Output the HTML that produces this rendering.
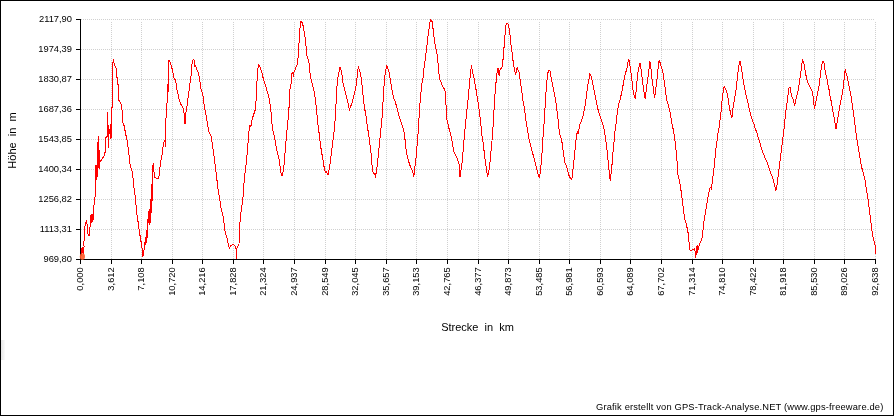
<!DOCTYPE html>
<html><head><meta charset="utf-8"><title>Höhenprofil</title>
<style>
html,body{margin:0;padding:0;background:#fff;}
body{width:894px;height:416px;overflow:hidden;}
svg{display:block;}
text{font-family:"Liberation Sans",Arial,sans-serif;fill:#000;}
.t{font-size:9.33px;}
.a{font-size:11px;white-space:pre;}
.f{font-size:9.33px;letter-spacing:0.17px;}
</style></head><body>
<svg width="894" height="416" viewBox="0 0 894 416">
<rect x="0" y="0" width="894" height="416" fill="#fff"/>
<defs><linearGradient id="lg" x1="0" x2="1" y1="0" y2="0"><stop offset="0" stop-color="#e6e6e6"/><stop offset="1" stop-color="#fbfbfb"/></linearGradient></defs><rect x="1" y="340" width="4" height="20" fill="url(#lg)"/>
<path d="M81 19.5H875M81 49.5H875M81 79.5H875M81 109.5H875M81 139.5H875M81 169.5H875M81 199.5H875M81 229.5H875M111.5 22V259M141.5 22V259M172.5 22V259M202.5 22V259M233.5 22V259M263.5 22V259M294.5 22V259M325.5 22V259M355.5 22V259M386.5 22V259M416.5 22V259M447.5 22V259M478.5 22V259M508.5 22V259M539.5 22V259M569.5 22V259M600.5 22V259M630.5 22V259M661.5 22V259M692.5 22V259M722.5 22V259M753.5 22V259M783.5 22V259M814.5 22V259M844.5 22V259M875.5 22V259" stroke="#d0d0d0" stroke-width="1" stroke-dasharray="1 1" fill="none" shape-rendering="crispEdges"/>
<path d="M80.5 19V260M80 259.5H876M76 19.5H80M76 49.5H80M76 79.5H80M76 109.5H80M76 139.5H80M76 169.5H80M76 199.5H80M76 229.5H80M76 259.5H80M80.5 260V264M111.5 260V264M141.5 260V264M172.5 260V264M202.5 260V264M233.5 260V264M263.5 260V264M294.5 260V264M325.5 260V264M355.5 260V264M386.5 260V264M416.5 260V264M447.5 260V264M478.5 260V264M508.5 260V264M539.5 260V264M569.5 260V264M600.5 260V264M630.5 260V264M661.5 260V264M692.5 260V264M722.5 260V264M753.5 260V264M783.5 260V264M814.5 260V264M844.5 260V264M875.5 260V264" stroke="#000" stroke-width="1" fill="none" shape-rendering="crispEdges"/>
<polyline points="81.5,255.5 81.5,249.5 82.5,247.0 82.5,252.5 83.5,247.5 83.5,253.5 84.1,246.5 83.7,242.8 84.1,240.8 84.6,234.7 84.8,227.6 85.1,225.6 85.6,224.6 86.1,221.6 86.6,221.1 87.1,224.6 87.4,229.7 87.8,233.7 88.3,235.2 89.1,235.2 89.6,232.7 89.8,227.6 90.4,226.1 90.7,215.5 91.1,223.0 91.7,214.5 92.1,222.0 92.6,214.5 93.0,220.0 93.7,214.5 93.9,206.5 94.3,201.5 94.9,200.5 95.2,192.5 95.8,179.5 96.0,165.0 96.7,165.0 96.9,179.5 97.5,164.5 97.9,150.5 98.1,136.8 98.9,136.8 98.3,166.5 99.1,168.5 99.1,150.5 99.7,162.5 101.0,160.5 102.3,158.5 103.9,156.5 104.7,154.5 105.0,152.0 105.0,140.5 105.7,152.5 106.0,137.5 107.0,136.5 107.7,136.5 107.9,112.5 108.2,147.5 108.5,130.5 109.5,132.5 110.0,129.5 110.5,138.5 111.0,124.5 111.5,137.5 111.8,115.5 112.1,104.5 112.5,100.5 112.5,80.5 112.8,62.5 113.5,60.5 114.1,63.0 114.7,65.5 115.5,67.3 116.3,68.5 116.5,76.9 117.5,78.1 117.8,84.2 118.6,85.5 119.0,100.5 119.8,101.8 120.8,103.0 121.3,105.5 121.8,108.0 122.3,111.8 123.0,123.0 123.8,124.9 124.5,126.8 125.0,130.5 125.5,133.0 126.0,135.5 126.6,138.0 127.3,141.8 127.9,145.5 128.4,152.5 129.1,155.8 129.8,159.8 130.2,167.0 131.1,168.4 131.7,169.7 132.4,173.0 133.1,178.3 133.7,180.9 134.1,190.2 134.8,191.5 135.3,199.4 135.9,200.8 136.1,208.0 136.9,213.9 137.6,218.4 138.4,224.3 139.1,229.6 139.9,234.8 140.6,239.2 141.4,243.7 142.1,248.2 142.6,252.7 142.9,256.8 143.6,252.7 144.0,249.7 144.6,246.7 145.1,240.7 145.5,245.2 146.1,236.3 146.7,234.8 147.0,230.3 147.6,224.3 148.1,219.9 146.7,243.5 147.1,228.5 147.5,236.5 147.8,222.5 148.5,210.9 149.1,224.5 149.5,209.5 150.1,222.5 150.3,202.0 150.8,211.5 151.1,194.5 151.7,212.5 151.8,184.5 152.2,200.5 152.5,171.7 152.9,165.1 153.6,163.7 154.0,171.7 154.6,177.0 155.5,177.6 156.9,178.3 158.2,178.3 159.1,175.6 159.7,169.0 160.2,165.1 160.8,161.1 161.5,157.1 162.2,153.8 162.6,150.5 163.4,143.8 164.6,140.2 165.2,139.6 165.8,146.8 166.0,117.9 167.0,102.9 167.0,85.5 167.8,84.5 167.8,96.5 168.5,83.5 168.6,60.5 169.5,60.5 170.5,63.0 171.1,65.5 171.8,67.4 172.4,70.5 173.0,73.0 173.6,76.8 174.3,78.5 175.3,79.9 175.9,81.8 176.5,86.8 177.1,90.5 177.8,93.0 178.4,96.8 179.0,99.3 179.9,101.8 180.5,103.6 181.5,105.5 182.4,106.8 183.0,107.5 184.3,114.7 185.0,124.3 185.5,117.1 186.2,109.9 186.8,107.5 187.4,103.0 188.0,98.0 188.6,93.0 189.3,89.3 189.9,84.3 190.5,79.3 191.1,75.5 191.8,64.3 192.4,63.0 193.0,59.9 194.0,59.9 194.3,67.4 194.9,64.3 195.5,66.1 196.1,67.4 196.8,69.3 197.4,70.5 198.0,71.8 198.6,73.0 199.3,78.0 199.9,81.5 201.1,89.4 202.3,93.0 203.5,97.8 204.0,103.8 204.7,108.7 205.4,112.3 206.4,117.1 207.6,124.3 208.8,131.6 210.2,134.0 211.2,136.4 211.9,141.2 212.6,146.0 213.6,153.2 214.6,160.4 215.5,167.6 216.7,177.2 217.4,184.4 218.4,191.7 219.1,195.5 219.9,200.5 220.6,205.0 221.4,210.2 222.1,212.4 222.9,215.4 223.6,219.9 224.3,224.3 225.1,231.8 225.8,234.8 226.6,237.0 227.3,239.2 228.1,243.7 228.8,246.7 229.6,248.2 230.3,246.0 231.8,245.2 233.3,244.5 234.5,245.2 235.5,246.7 236.3,249.7 236.7,259.4 237.0,248.2 237.8,246.7 239.0,244.5 239.2,233.3 239.7,225.8 240.3,218.4 241.0,212.4 241.8,206.5 242.7,201.5 243.9,184.4 244.8,174.8 246.0,165.2 246.8,158.0 247.5,148.4 248.2,141.2 249.2,129.2 249.9,125.5 250.9,126.8 251.6,121.9 252.8,117.1 254.0,113.5 255.2,109.9 255.9,102.7 256.4,94.2 256.9,82.2 257.6,72.6 258.3,65.4 259.0,64.7 260.0,66.6 261.2,70.2 262.4,75.0 263.6,79.8 264.8,83.4 266.0,87.0 267.2,91.8 268.4,95.4 269.6,100.5 270.8,109.5 271.5,119.5 272.3,126.8 273.2,131.6 274.4,136.4 275.6,143.6 276.8,149.6 277.5,153.2 278.5,156.0 279.7,162.8 280.4,170.0 281.4,174.8 282.1,176.0 282.8,173.6 283.8,167.6 284.5,160.4 285.2,150.8 286.2,138.8 286.9,131.6 287.6,124.3 288.6,114.5 289.3,102.5 290.0,89.4 291.0,84.6 291.7,73.8 292.4,72.6 293.4,75.0 294.1,71.4 294.8,70.2 295.8,67.8 296.5,65.4 297.7,64.2 298.1,56.5 298.9,44.5 299.3,40.5 299.9,29.5 300.3,25.5 300.8,21.5 301.5,22.0 302.5,22.9 303.3,26.9 304.2,31.7 304.9,36.5 305.7,38.5 306.1,48.5 306.4,52.2 307.1,57.0 307.8,58.2 308.8,60.6 309.3,65.4 310.0,72.6 310.7,77.4 311.7,82.2 312.6,84.6 313.6,89.4 314.6,94.2 315.3,99.0 315.9,103.5 316.5,109.9 317.4,119.5 318.2,126.8 318.9,131.6 319.8,138.8 320.6,146.0 321.8,153.2 323.0,160.4 324.2,167.6 325.4,172.4 326.6,171.2 327.3,173.6 328.0,174.8 329.0,170.0 330.2,162.8 331.4,153.2 332.6,143.6 333.8,134.0 334.8,124.3 335.5,112.5 336.2,100.5 336.9,87.0 337.9,77.4 339.1,71.4 340.0,67.3 341.0,70.2 342.0,75.0 342.9,82.2 344.1,87.0 345.3,91.8 346.5,96.6 347.7,101.4 348.9,107.5 349.6,109.5 350.6,106.3 351.8,103.8 353.0,99.0 354.2,94.2 355.4,89.4 356.4,84.6 357.1,77.4 357.8,70.2 358.5,67.3 359.5,70.2 360.5,73.8 361.4,79.8 362.2,87.0 362.9,94.2 363.6,101.4 364.3,106.5 365.0,110.5 366.2,117.1 367.4,126.8 368.6,134.0 369.8,143.6 371.0,153.2 371.8,162.8 372.5,170.0 373.5,173.6 374.7,173.6 375.4,176.0 376.3,172.4 377.5,162.8 378.7,150.8 379.9,138.8 381.1,126.8 382.3,114.7 382.9,104.5 383.3,94.2 384.3,82.2 385.2,72.6 386.2,67.8 386.9,65.9 387.9,69.0 389.1,72.6 390.3,79.8 391.5,87.0 392.7,94.2 393.9,98.5 395.1,101.5 396.3,105.5 397.5,109.5 398.7,114.7 399.9,118.3 401.1,121.9 402.3,125.5 403.5,129.2 404.7,136.4 405.9,148.4 407.1,155.6 408.3,160.4 409.5,164.0 410.7,167.6 411.9,170.0 413.1,173.6 413.8,177.2 414.8,167.6 416.0,158.0 417.0,146.0 417.9,136.4 418.6,124.3 419.4,112.3 420.0,103.0 420.8,94.2 421.8,84.6 422.7,79.8 423.5,75.0 424.2,65.4 425.1,60.6 426.1,52.2 427.1,43.8 428.0,36.5 429.0,29.3 429.9,22.1 430.7,19.7 431.6,20.9 432.3,22.1 433.1,29.3 434.0,36.5 435.0,43.8 436.0,48.6 436.9,53.4 437.6,58.2 438.4,67.8 439.3,77.4 440.0,79.8 441.0,82.2 442.0,84.6 442.9,87.0 443.9,88.2 444.8,89.4 445.3,94.2 445.8,103.8 446.3,107.5 446.8,119.5 448.0,124.3 449.2,129.2 450.4,134.0 451.6,138.8 452.5,143.6 453.5,150.8 454.5,153.2 455.9,155.6 457.1,158.0 458.3,161.6 459.3,165.2 460.0,177.2 460.7,172.4 461.7,165.2 462.4,160.4 463.1,150.8 464.1,138.8 465.0,129.2 466.0,119.5 466.7,112.3 467.4,105.1 468.1,99.5 468.6,94.2 469.4,84.6 470.1,77.4 470.8,70.2 471.5,67.3 472.3,70.2 473.2,75.0 474.4,79.8 475.6,87.0 476.8,94.2 477.5,99.0 478.5,104.5 479.7,114.7 480.9,124.3 481.6,132.8 482.3,137.6 483.3,143.6 484.3,153.2 485.2,160.4 486.2,167.6 487.2,174.8 487.6,177.2 488.6,172.4 489.6,167.6 490.5,155.6 491.5,146.0 492.4,136.4 493.2,124.3 493.9,112.3 494.6,100.5 495.3,89.4 496.3,79.8 497.3,70.2 498.2,67.8 499.2,76.2 499.7,70.2 500.6,69.0 501.6,67.8 502.5,65.4 503.2,57.5 503.9,49.0 504.5,41.5 505.1,34.0 505.7,26.5 506.3,23.9 507.9,23.9 508.7,26.9 509.7,31.0 510.3,38.5 511.1,45.5 511.9,50.5 512.4,56.5 513.4,63.0 514.6,70.2 515.5,75.0 516.5,70.2 517.2,67.8 518.2,70.2 519.1,72.6 519.8,77.4 520.8,84.6 521.8,91.8 522.7,99.0 523.7,104.5 524.7,109.9 525.4,117.1 526.6,124.3 527.8,131.6 529.0,138.8 530.2,143.6 531.4,148.4 532.6,153.2 533.8,156.8 535.0,161.6 536.2,166.4 537.4,171.2 538.6,176.0 539.3,178.4 540.3,172.4 541.2,162.8 542.2,150.8 542.9,138.8 543.6,129.2 544.4,119.5 545.1,106.5 546.0,91.8 547.0,79.8 548.0,72.6 548.9,70.2 549.9,70.2 550.6,75.0 551.6,79.8 552.5,84.6 553.5,89.4 554.5,94.2 555.4,99.0 556.1,103.8 556.9,109.9 557.8,117.1 558.5,124.3 559.3,131.6 560.2,136.4 561.4,138.8 562.2,143.6 563.1,150.8 564.1,158.0 565.0,162.8 566.2,165.2 567.4,170.0 568.6,174.8 569.8,177.2 571.0,178.4 571.8,179.6 572.7,172.4 573.7,162.8 574.7,153.2 575.6,143.6 576.6,135.2 577.5,131.6 578.0,134.0 579.0,129.2 579.9,124.3 580.9,121.9 581.9,119.5 582.8,117.1 583.8,112.3 584.9,107.0 585.9,99.5 586.9,91.8 587.9,84.6 588.8,79.8 589.8,74.5 590.8,75.5 591.5,77.4 592.4,82.2 593.4,87.0 594.4,91.8 595.3,96.6 596.3,101.4 597.3,106.3 598.0,109.5 598.7,112.3 599.9,115.9 601.1,119.5 602.3,123.1 603.5,126.8 604.7,132.8 605.9,141.2 607.1,150.8 608.3,162.8 609.5,174.8 610.2,180.8 611.2,172.4 612.2,162.8 613.1,150.8 614.1,141.2 615.0,131.6 616.0,124.3 617.0,114.7 617.9,108.5 618.9,103.5 619.8,101.4 620.8,96.6 621.8,91.8 622.7,87.0 623.7,82.2 624.7,76.2 625.6,72.6 626.6,70.2 627.5,65.4 628.1,61.0 628.7,58.7 629.5,62.5 630.7,70.2 631.6,77.4 632.6,87.0 633.6,94.2 634.5,96.6 635.2,97.8 636.0,91.8 636.9,82.2 637.9,72.6 638.8,67.8 639.9,62.7 640.8,67.8 641.7,75.0 642.7,82.2 643.6,89.4 644.4,94.2 645.1,98.6 646.0,91.8 647.0,84.6 648.0,77.4 648.9,70.2 649.9,61.5 650.9,67.8 651.8,77.4 652.8,84.6 653.7,91.8 654.7,97.8 655.7,89.4 656.6,82.2 657.6,75.0 658.3,65.5 659.2,60.3 660.2,63.0 661.4,67.8 662.4,70.2 663.4,75.0 664.3,82.2 665.3,89.4 666.2,96.6 667.2,102.0 668.4,105.1 669.6,109.9 670.8,117.1 672.0,124.3 673.2,129.2 674.4,136.4 675.6,146.0 676.8,158.0 678.0,174.8 678.5,177.0 679.7,182.5 680.9,189.7 681.9,196.9 682.8,204.2 683.8,211.4 684.5,218.6 685.7,222.2 686.9,227.0 688.1,233.0 688.8,240.2 689.6,247.4 690.0,250.2 691.7,250.2 692.9,249.3 694.1,250.3 694.8,248.6 695.3,253.4 695.8,257.5 696.3,252.2 696.7,246.5 697.1,252.5 697.5,245.5 697.9,251.5 697.0,249.8 697.7,246.9 698.5,248.6 699.2,245.0 700.1,242.6 701.3,240.2 702.5,236.6 703.0,230.6 703.7,223.4 704.5,217.4 705.4,212.6 706.4,206.6 707.3,201.8 708.3,194.5 709.3,190.9 710.2,187.3 711.2,188.5 712.2,182.5 713.1,174.8 714.1,167.6 715.0,158.0 716.0,148.4 717.0,141.2 717.9,134.0 718.9,129.2 719.8,121.9 720.8,114.7 721.3,107.5 722.3,99.0 723.2,91.8 724.3,85.8 725.1,88.2 726.1,90.6 727.1,93.0 727.8,96.6 728.7,103.0 729.9,110.0 730.9,114.7 731.9,118.3 732.6,112.3 733.3,105.1 734.3,100.3 735.0,96.5 735.7,91.8 736.4,87.0 737.2,79.8 737.9,72.6 738.6,67.8 739.3,62.3 740.0,60.8 740.8,64.2 741.5,69.0 742.4,75.0 743.4,82.2 744.4,87.0 745.3,91.8 746.3,96.6 747.3,100.2 748.2,103.5 749.3,109.5 750.6,114.7 751.8,118.3 753.0,121.9 754.2,124.3 755.4,129.2 756.6,131.6 757.8,136.4 759.0,140.0 760.2,143.6 761.4,148.4 762.6,152.0 763.8,154.4 765.0,158.0 766.2,160.4 767.4,162.8 768.6,166.4 769.8,170.0 771.0,173.6 772.3,177.2 773.5,180.8 774.7,185.6 775.9,191.0 777.1,184.4 778.3,174.8 779.5,165.2 780.7,155.6 781.9,146.0 783.1,136.4 784.3,126.8 785.0,119.5 785.7,112.3 786.7,104.5 787.4,100.3 788.1,94.2 789.1,87.5 789.7,87.0 790.5,88.5 791.0,93.0 792.0,96.6 792.9,99.0 793.9,102.6 794.6,105.0 795.6,101.4 796.5,96.6 797.5,93.0 798.5,89.4 799.4,82.2 800.4,75.0 801.3,69.0 802.1,62.5 802.7,60.5 803.7,62.5 804.9,69.0 805.9,75.0 806.9,79.8 807.8,82.2 808.8,84.6 810.0,87.0 811.2,89.4 812.2,91.8 813.1,96.6 813.8,103.8 814.6,108.7 815.5,103.8 816.5,99.0 817.4,94.2 818.4,89.4 819.4,84.6 820.3,75.0 821.3,67.8 822.3,63.0 823.0,61.5 824.0,63.0 825.1,70.2 826.1,75.0 827.1,79.8 828.0,84.6 829.0,89.4 829.9,96.0 831.0,100.5 832.1,106.5 833.1,112.5 834.0,116.5 834.8,121.9 836.0,129.2 837.2,121.9 838.4,114.7 839.3,108.7 840.1,104.5 840.8,101.4 841.7,96.6 842.7,91.8 843.6,84.6 844.7,72.5 845.3,69.5 846.3,73.8 847.3,77.4 848.2,82.2 849.2,87.0 850.1,91.8 851.1,96.6 851.9,102.0 852.8,108.5 854.0,117.1 855.2,126.8 856.4,136.4 857.6,143.6 858.8,150.8 860.0,158.0 861.2,165.2 862.4,170.0 863.6,174.0 864.8,178.5 865.7,185.5 866.9,191.9 868.4,201.8 869.6,211.4 870.8,221.0 872.0,230.6 872.7,235.4 873.9,240.2 875.1,245.0 875.6,249.8 875.8,253.5" stroke="#ff0000" stroke-width="1" fill="none" shape-rendering="crispEdges"/>
<ellipse cx="82.4" cy="256.6" rx="2.6" ry="3.3" fill="#ff5a28" fill-opacity="0.9"/>
<text class="t" x="72" y="22" text-anchor="end">2117,90</text>
<text class="t" x="72" y="52" text-anchor="end">1974,39</text>
<text class="t" x="72" y="82" text-anchor="end">1830,87</text>
<text class="t" x="72" y="112" text-anchor="end">1687,36</text>
<text class="t" x="72" y="142" text-anchor="end">1543,85</text>
<text class="t" x="72" y="172" text-anchor="end">1400,34</text>
<text class="t" x="72" y="202" text-anchor="end">1256,82</text>
<text class="t" x="72" y="232" text-anchor="end">1113,31</text>
<text class="t" x="72" y="262" text-anchor="end">969,80</text>
<text class="t" transform="translate(83,267.3) rotate(-90)" text-anchor="end">0,000</text>
<text class="t" transform="translate(114,267.3) rotate(-90)" text-anchor="end">3,612</text>
<text class="t" transform="translate(144,267.3) rotate(-90)" text-anchor="end">7,108</text>
<text class="t" transform="translate(175,267.3) rotate(-90)" text-anchor="end">10,720</text>
<text class="t" transform="translate(205,267.3) rotate(-90)" text-anchor="end">14,216</text>
<text class="t" transform="translate(236,267.3) rotate(-90)" text-anchor="end">17,828</text>
<text class="t" transform="translate(266,267.3) rotate(-90)" text-anchor="end">21,324</text>
<text class="t" transform="translate(297,267.3) rotate(-90)" text-anchor="end">24,937</text>
<text class="t" transform="translate(328,267.3) rotate(-90)" text-anchor="end">28,549</text>
<text class="t" transform="translate(358,267.3) rotate(-90)" text-anchor="end">32,045</text>
<text class="t" transform="translate(389,267.3) rotate(-90)" text-anchor="end">35,657</text>
<text class="t" transform="translate(419,267.3) rotate(-90)" text-anchor="end">39,153</text>
<text class="t" transform="translate(450,267.3) rotate(-90)" text-anchor="end">42,765</text>
<text class="t" transform="translate(481,267.3) rotate(-90)" text-anchor="end">46,377</text>
<text class="t" transform="translate(511,267.3) rotate(-90)" text-anchor="end">49,873</text>
<text class="t" transform="translate(542,267.3) rotate(-90)" text-anchor="end">53,485</text>
<text class="t" transform="translate(572,267.3) rotate(-90)" text-anchor="end">56,981</text>
<text class="t" transform="translate(603,267.3) rotate(-90)" text-anchor="end">60,593</text>
<text class="t" transform="translate(633,267.3) rotate(-90)" text-anchor="end">64,089</text>
<text class="t" transform="translate(664,267.3) rotate(-90)" text-anchor="end">67,702</text>
<text class="t" transform="translate(695,267.3) rotate(-90)" text-anchor="end">71,314</text>
<text class="t" transform="translate(725,267.3) rotate(-90)" text-anchor="end">74,810</text>
<text class="t" transform="translate(756,267.3) rotate(-90)" text-anchor="end">78,422</text>
<text class="t" transform="translate(786,267.3) rotate(-90)" text-anchor="end">81,918</text>
<text class="t" transform="translate(817,267.3) rotate(-90)" text-anchor="end">85,530</text>
<text class="t" transform="translate(847,267.3) rotate(-90)" text-anchor="end">89,026</text>
<text class="t" transform="translate(878,267.3) rotate(-90)" text-anchor="end">92,638</text>
<text class="a" x="477.5" y="331.3" text-anchor="middle" xml:space="preserve">Strecke  in  km</text>
<text class="a" transform="translate(15.5,140.5) rotate(-90)" text-anchor="middle" xml:space="preserve">Höhe  in  m</text>
<text class="f" x="883.5" y="410" text-anchor="end">Grafik erstellt von GPS-Track-Analyse.NET (www.gps-freeware.de)</text>
<rect x="0.5" y="0.5" width="893" height="415" fill="none" stroke="#000" stroke-width="1" shape-rendering="crispEdges"/>
</svg>
</body></html>
